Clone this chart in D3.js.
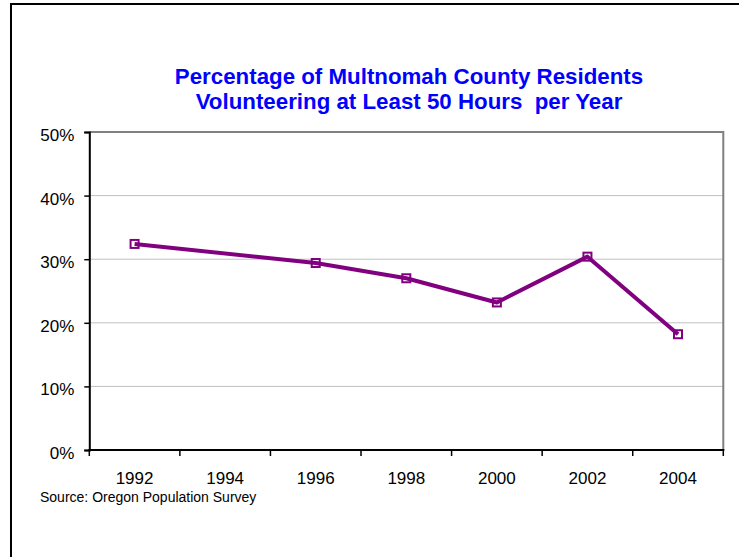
<!DOCTYPE html>
<html>
<head>
<meta charset="utf-8">
<script src="https://cdn.jsdelivr.net/npm/d3@7"></script>
<style>
  html, body { margin: 0; padding: 0; background: #fff; }
  svg { display: block; }
  text { font-family: "Liberation Sans", Arial, sans-serif; }
</style>
</head>
<body>
<svg id="chart" width="739" height="557"></svg>
<script>
// Survey years and share of residents volunteering 50+ hours a year (no survey in 1994)
const years = ["1992", "1994", "1996", "1998", "2000", "2002", "2004"];
const volunteerShare = [0.324, null, 0.294, 0.270, 0.232, 0.304, 0.182];
const yTicks = [0, 0.1, 0.2, 0.3, 0.4, 0.5];
const titleLines = [
  "Percentage of Multnomah County Residents",
  "Volunteering at Least 50 Hours\u00a0 per Year"
];
const sourceNote = "Source: Oregon Population Survey";

const svg = d3.select("#chart");
const plot = { left: 89.3, right: 723.3, top: 132, bottom: 450 };
const purple = "#800080";

// Outer frame
svg.append("rect")
  .attr("x", 11).attr("y", 4)
  .attr("width", 760).attr("height", 580)
  .attr("fill", "none").attr("stroke", "#000").attr("stroke-width", 2);

const x = d3.scaleBand().domain(years).range([plot.left, plot.right]).padding(0);
const y = d3.scaleLinear().domain([0, 0.5]).range([plot.bottom, plot.top]);

// Title
svg.append("g").selectAll("text")
  .data(titleLines)
  .join("text")
  .attr("x", 409)
  .attr("y", (d, i) => 84.3 + i * 24.7)
  .attr("text-anchor", "middle")
  .attr("fill", "#0000ff")
  .attr("font-weight", "bold")
  .attr("font-size", "22.3px")
  .text(d => d);

// Horizontal gridlines
svg.append("g").selectAll("line")
  .data(yTicks.filter(t => t > 0 && t < 0.5))
  .join("line")
  .attr("x1", plot.left).attr("x2", plot.right)
  .attr("y1", d => y(d)).attr("y2", d => y(d))
  .attr("stroke", "#c0c0c0").attr("stroke-width", 1);

// Plot area top and right edges
svg.append("path")
  .attr("d", `M${plot.left},${plot.top}H${plot.right}V${plot.bottom}`)
  .attr("fill", "none").attr("stroke", "#808080").attr("stroke-width", 2);

// Y axis
const yAxis = svg.append("g")
  .attr("transform", `translate(${plot.left},0)`)
  .call(d3.axisLeft(y).tickValues(yTicks).tickFormat(d3.format(".0%"))
    .tickSize(5).tickPadding(10));
yAxis.select(".domain").attr("stroke", "#000").attr("stroke-width", 2);
yAxis.selectAll(".tick line").attr("stroke", "#000").attr("stroke-width", 1.5);
yAxis.selectAll(".tick text")
  .attr("font-family", "'Liberation Sans', Arial, sans-serif")
  .attr("font-size", "17px").attr("fill", "#000")
  .attr("dy", "0.5em");

// X axis: ticks sit on the category boundaries, labels centred in each band
const boundaries = years.map(d => x(d)).concat([plot.right]);
const xAxisG = svg.append("g");
xAxisG.append("line")
  .attr("x1", plot.left - 1).attr("x2", plot.right + 1)
  .attr("y1", plot.bottom).attr("y2", plot.bottom)
  .attr("stroke", "#000").attr("stroke-width", 2);
xAxisG.selectAll("line.tick")
  .data(boundaries)
  .join("line")
  .attr("class", "tick")
  .attr("x1", d => d).attr("x2", d => d)
  .attr("y1", plot.bottom).attr("y2", plot.bottom + 6)
  .attr("stroke", "#000").attr("stroke-width", 1.5);
xAxisG.selectAll("text")
  .data(years)
  .join("text")
  .attr("x", d => x(d) + x.bandwidth() / 2)
  .attr("y", 484)
  .attr("text-anchor", "middle")
  .attr("font-size", "17px")
  .attr("fill", "#000")
  .text(d => d);

// Series data with missing years skipped (line connects across gaps)
const points = years.map((yr, i) => ({ year: yr, value: volunteerShare[i] }))
  .filter(d => d.value !== null);
const cx = d => x(d.year) + x.bandwidth() / 2;

// Markers
svg.append("g").selectAll("rect")
  .data(points)
  .join("rect")
  .attr("x", d => cx(d) - 4)
  .attr("y", d => y(d.value) - 4)
  .attr("width", 8).attr("height", 8)
  .attr("fill", "#fff")
  .attr("stroke", purple).attr("stroke-width", 2);

// Line
svg.append("path")
  .datum(points)
  .attr("fill", "none")
  .attr("stroke", purple)
  .attr("stroke-width", 4)
  .attr("stroke-linejoin", "round")
  .attr("d", d3.line().x(cx).y(d => y(d.value)));

// Source note
svg.append("text")
  .attr("x", 40).attr("y", 501.7)
  .attr("font-size", "14px")
  .attr("fill", "#000")
  .text(sourceNote);
</script>
</body>
</html>
